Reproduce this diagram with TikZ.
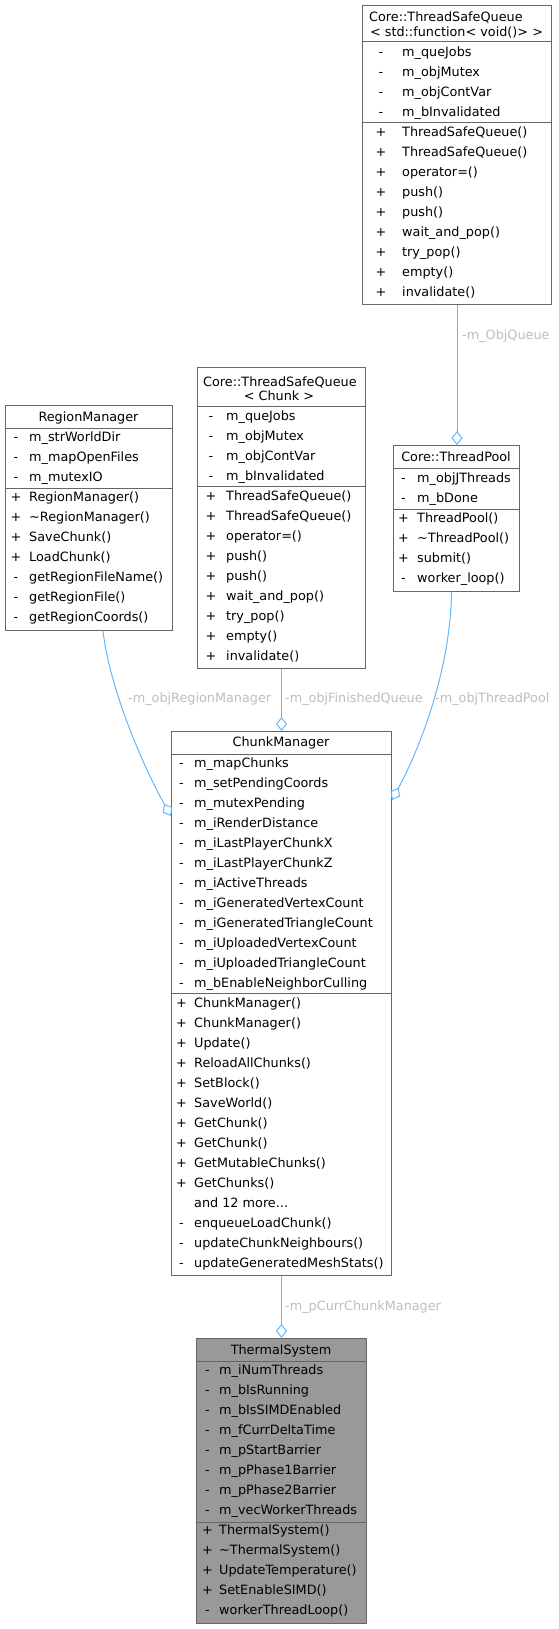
\documentclass[tikz,border=0pt]{standalone}
\usepackage{fontspec}
\setmainfont{DejaVu Sans}
\usetikzlibrary{arrows.meta,calc}
\definecolor{boxgray}{HTML}{666666}
\definecolor{edgeblue}{HTML}{63B8FF}
\definecolor{labelgray}{HTML}{BEBEBE}
\definecolor{curfill}{HTML}{999999}
\newcommand\memberrows[5]{%
  \foreach \sy/\tx [count=\i from 0] in {#5} {
    \node[symtxt] (#1s\i) at (#2, {#4+20*\i+4.5}) {\sy};
    \node[memtxt] (#1t\i) at (#3, {#4+20*\i+4.5}) {\tx};
  }}
\newcommand\moredots{.\kern0pt.\kern0pt.}
\begin{document}
\begin{tikzpicture}[x=1pt,y=-1pt,
  font=\fontsize{12.8}{15}\selectfont,
  classbox/.style={draw=boxgray, fill=white, line width=1pt, inner sep=0pt, anchor=north west},
  curbox/.style={classbox, fill=curfill},
  sepline/.style={draw=boxgray, line width=1pt},
  symtxt/.style={inner sep=0pt, anchor=base},
  memtxt/.style={inner sep=0pt, anchor=base west},
  hdrc/.style={inner sep=0pt, anchor=base},
  hdrl/.style={inner sep=0pt, anchor=base west},
  lbl/.style={inner sep=0pt, anchor=base west, text=labelgray},
  edge/.style={draw=edgeblue, line width=1pt, -{Diamond[open, length=14pt, width=11pt, line width=1pt]}}
]
\useasboundingbox (0,0) rectangle (559,1629);
\fill[white] (0,0) rectangle (559,1629);

% ---------- Core::ThreadSafeQueue< std::function< void()> >
\node[classbox, minimum width=189pt, minimum height=299pt] (A) at (362,5) {};
\draw[sepline] ($(A.north west)+(0,37)$) -- ($(A.north east)+(0,37)$);
\draw[sepline] ($(A.north west)+(0,118)$) -- ($(A.north east)+(0,118)$);
\node[hdrl] (Ah1) at (369,21.5) {Core::ThreadSafeQueue};
\node[hdrc] (Ah2) at (456.5,36.5) {< std::function< void()> >};
\memberrows{A}{381}{402}{52}{-/m\_queJobs, -/m\_objMutex, -/m\_objContVar, -/m\_bInvalidated,
  +/ThreadSafeQueue(), +/ThreadSafeQueue(), +/operator=(), +/push(), +/push(), +/wait\_and\_pop(), +/try\_pop(), +/empty(), +/invalidate()}

% ---------- RegionManager
\node[classbox, minimum width=167pt, minimum height=225pt] (B) at (5,405) {};
\draw[sepline] ($(B.north west)+(0,23)$) -- ($(B.north east)+(0,23)$);
\draw[sepline] ($(B.north west)+(0,83)$) -- ($(B.north east)+(0,83)$);
\node[hdrc] (Bh1) at (88.5,421.5) {RegionManager};
\memberrows{B}{16}{29}{437}{-/m\_strWorldDir, -/m\_mapOpenFiles, -/m\_mutexIO,
  +/RegionManager(), +/\textasciitilde RegionManager(), +/SaveChunk(), +/LoadChunk(), -/getRegionFileName(), -/getRegionFile(), -/getRegionCoords()}

% ---------- Core::ThreadSafeQueue< Chunk >
\node[classbox, minimum width=168pt, minimum height=301pt] (C) at (197,367) {};
\draw[sepline] ($(C.north west)+(0,39)$) -- ($(C.north east)+(0,39)$);
\draw[sepline] ($(C.north west)+(0,119)$) -- ($(C.north east)+(0,119)$);
\node[hdrl] (Ch1) at (203,386.5) {Core::ThreadSafeQueue};
\node[hdrc] (Ch2) at (279,400.5) {< Chunk >};
\memberrows{C}{211}{226}{416}{-/m\_queJobs, -/m\_objMutex, -/m\_objContVar, -/m\_bInvalidated,
  +/ThreadSafeQueue(), +/ThreadSafeQueue(), +/operator=(), +/push(), +/push(), +/wait\_and\_pop(), +/try\_pop(), +/empty(), +/invalidate()}

% ---------- Core::ThreadPool
\node[classbox, minimum width=126pt, minimum height=146pt] (D) at (393,445) {};
\draw[sepline] ($(D.north west)+(0,23)$) -- ($(D.north east)+(0,23)$);
\draw[sepline] ($(D.north west)+(0,64)$) -- ($(D.north east)+(0,64)$);
\node[hdrc] (Dh1) at (456,461.5) {Core::ThreadPool};
\memberrows{D}{403.5}{417}{478}{-/m\_objJThreads, -/m\_bDone,
  +/ThreadPool(), +/\textasciitilde ThreadPool(), +/submit(), -/worker\_loop()}

% ---------- ChunkManager
\node[classbox, minimum width=220pt, minimum height=544pt] (E) at (171,731) {};
\draw[sepline] ($(E.north west)+(0,23)$) -- ($(E.north east)+(0,23)$);
\draw[sepline] ($(E.north west)+(0,262)$) -- ($(E.north east)+(0,262)$);
\node[hdrc] (Eh1) at (281,746.5) {ChunkManager};
\memberrows{E}{181.5}{194}{763}{-/m\_mapChunks, -/m\_setPendingCoords, -/m\_mutexPending, -/m\_iRenderDistance,
  -/m\_iLastPlayerChunkX, -/m\_iLastPlayerChunkZ, -/m\_iActiveThreads, -/m\_iGeneratedVertexCount,
  -/m\_iGeneratedTriangleCount, -/m\_iUploadedVertexCount, -/m\_iUploadedTriangleCount, -/m\_bEnableNeighborCulling}
\memberrows{EM}{181.5}{194}{1003}{+/ChunkManager(), +/ChunkManager(), +/Update(), +/ReloadAllChunks(), +/SetBlock(),
  +/SaveWorld(), +/GetChunk(), +/GetChunk(), +/GetMutableChunks(), +/GetChunks(), {}/and 12 more\moredots,
  -/enqueueLoadChunk(), -/updateChunkNeighbours(), -/updateGeneratedMeshStats()}

% ---------- ThermalSystem
\node[curbox, minimum width=170pt, minimum height=285pt] (F) at (196,1338) {};
\draw[sepline] ($(F.north west)+(0,23)$) -- ($(F.north east)+(0,23)$);
\draw[sepline] ($(F.north west)+(0,184)$) -- ($(F.north east)+(0,184)$);
\node[hdrc] (Fh1) at (281,1354.5) {ThermalSystem};
\memberrows{F}{207.5}{219}{1370}{-/m\_iNumThreads, -/m\_bIsRunning, -/m\_bIsSIMDEnabled, -/m\_fCurrDeltaTime,
  -/m\_pStartBarrier, -/m\_pPhase1Barrier, -/m\_pPhase2Barrier, -/m\_vecWorkerThreads}
\memberrows{FM}{207.5}{219}{1529.5}{+/ThermalSystem(), +/\textasciitilde ThermalSystem(), +/UpdateTemperature(), +/SetEnableSIMD(), -/workerThreadLoop()}

% ---------- connectors
\draw[edge] (A.south) -- (A.south |- D.north);
\draw[edge] (C.south) -- (E.north);
\draw[edge] (E.south) -- (F.north);
\draw[edge] ($(B.south west)+(98,0)$) .. controls ($(B.south west)+(105,60)$) and ($(E.north west)+(-26,39)$) .. ($(E.north west)+(0,85)$);
\draw[edge] ($(D.south)+(-5,0)$) .. controls ($(D.south)+(-6,79)$) and ($(E.north east)+(27,19)$) .. ($(E.north east)+(0,69)$);

% ---------- connector labels
\node[lbl] (l1) at (462,339.5) {-m\_ObjQueue};
\node[lbl] (l2) at (128,702.5) {-m\_objRegionManager};
\node[lbl] (l3) at (285,702.5) {-m\_objFinishedQueue};
\node[lbl] (l4) at (435,702.5) {-m\_objThreadPool};
\node[lbl] (l5) at (285,1310.5) {-m\_pCurrChunkManager};
\end{tikzpicture}
\end{document}
